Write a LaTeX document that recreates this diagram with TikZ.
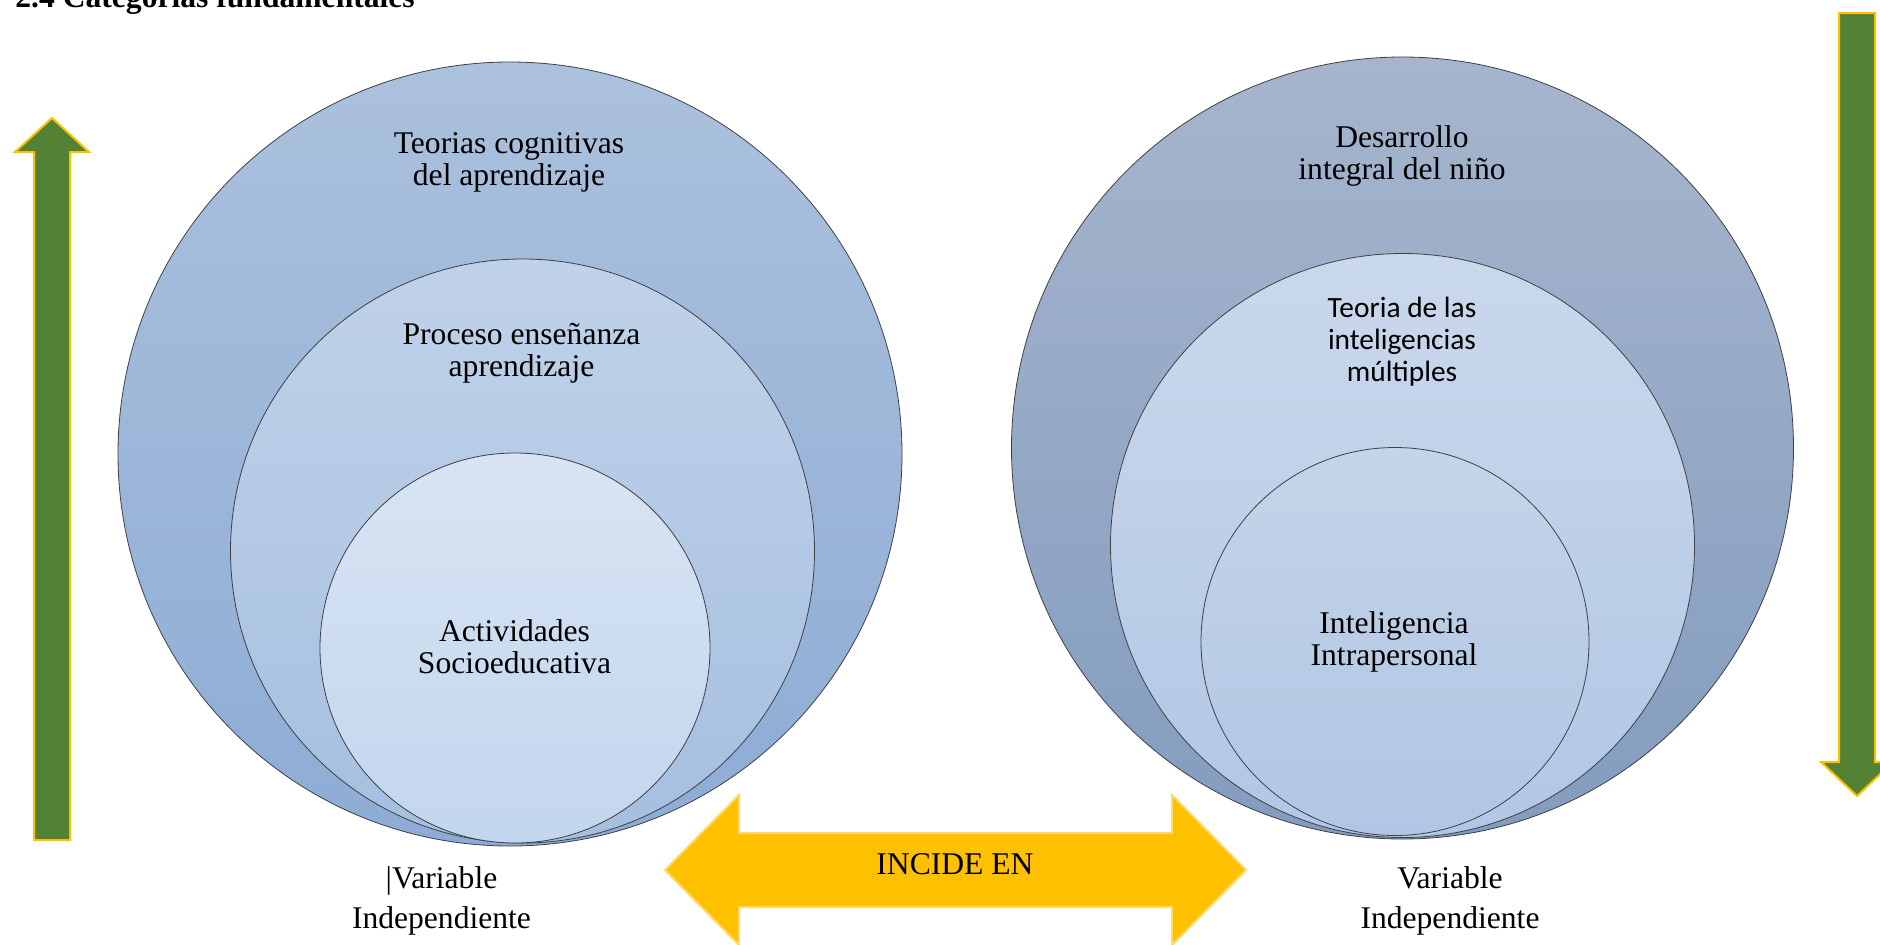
\documentclass[tikz,border=0pt]{standalone}
\usepackage{fontspec}
\setmainfont{Liberation Serif}
\newfontfamily\calibrifont{Carlito}
\usepackage{xcolor}
\usepackage{tikz}

\definecolor{verde}{HTML}{548235}
\definecolor{oro}{HTML}{FFC000}
\definecolor{oroclaro}{HTML}{FFD966}
\definecolor{borde}{HTML}{3F3F46}

\tikzset{
	capa/.style={circle, draw=borde, line width=0.4pt, inner sep=0pt},
	texto/.style={align=center, anchor=base, inner sep=0pt, font=\fontsize{15.8}{16}\selectfont},
	flecha/.style={fill=verde, draw=oro, line width=1pt},
}

\begin{document}
\begin{tikzpicture}[x=0.5pt, y=-0.5pt]
	\useasboundingbox (0,0) rectangle (1880,944);

	\node[anchor=base west, inner sep=0pt, font=\bfseries\fontsize{15.8}{16}\selectfont] (titulo) at (15,7) {2.4 Categorías fundamentales};

	\draw[flecha] (34,840) -- (34,152) -- (15,152) -- (52,118) -- (89,152) -- (70,152) -- (70,840) -- cycle;
	\draw[flecha] (1839,13) -- (1875,13) -- (1875,762) -- (1893,762) -- (1857,796) -- (1821,762) -- (1839,762) -- cycle;

	\node[capa, minimum size=392pt, top color={rgb,255:red,171;green,193;blue,221}, bottom color={rgb,255:red,141;green,172;blue,213}] (teorias) at (510,454) {};
	\node[capa, minimum size=292pt, top color={rgb,255:red,192;green,210;blue,233}, bottom color={rgb,255:red,165;green,191;blue,224}] (proceso) at (522.5,551) {};
	\node[capa, minimum size=195pt, top color={rgb,255:red,216;green,228;blue,243}, bottom color={rgb,255:red,194;green,214;blue,237}] (actividades) at (515,648) {};

	\node[capa, minimum size=391pt, top color={rgb,255:red,166;green,181;blue,205}, bottom color={rgb,255:red,131;green,156;blue,190}] (desarrollo) at (1402.5,448) {};
	\node[capa, minimum size=292pt, top color={rgb,255:red,202;green,216;blue,235}, bottom color={rgb,255:red,177;green,199;blue,229}] (teoria) at (1402.5,545.5) {};
	\node[capa, minimum size=194pt, top color={rgb,255:red,197;green,212;blue,232}, bottom color={rgb,255:red,176;green,198;blue,228}] (intra) at (1395,641.5) {};

	\node[texto] (tteorias) at (509,185) {Teorias cognitivas\\del aprendizaje};
	\node[texto] (tproceso) at (521.5,376) {Proceso enseñanza\\aprendizaje};
	\node[texto] (tactividades) at (514.5,673) {Actividades\\Socioeducativa};
	\node[texto] (tdesarrollo) at (1402,179) {Desarrollo\\integral del niño};
	\node[texto, font=\calibrifont\fontsize{14.7}{16}\selectfont] (tteoria) at (1402,381) {Teoria de las\\inteligencias\\múltiples};
	\node[texto] (tintra) at (1394,665) {Inteligencia\\Intrapersonal};

	\node[texto, font=\fontsize{15.8}{20}\selectfont] (vizq) at (441.5,928) {|Variable\\Independiente};
	\node[texto, font=\fontsize{15.8}{20}\selectfont] (vder) at (1450,928) {Variable\\Independiente};

	\draw[fill=oro, draw=oroclaro, line width=1pt] (665,870) -- (739,795) -- (739,833) -- (1172,833) -- (1172,795) -- (1246,870) -- (1172,945) -- (1172,907) -- (739,907) -- (739,945) -- cycle;
	\node[texto] (incide) at (955,874) {INCIDE EN};
\end{tikzpicture}
\end{document}
